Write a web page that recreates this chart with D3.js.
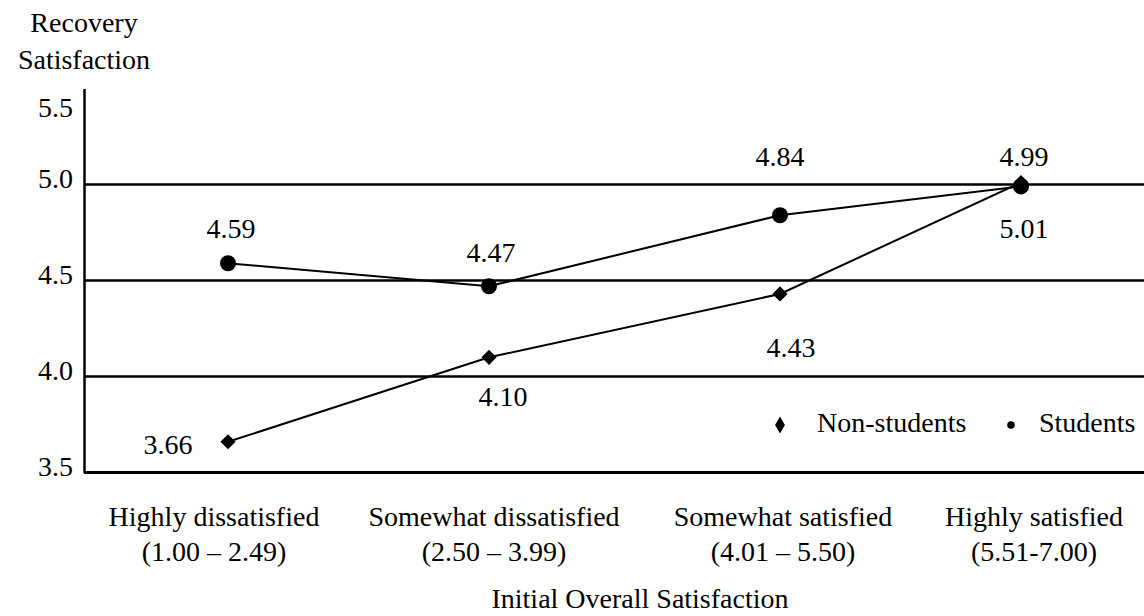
<!DOCTYPE html>
<html>
<head>
<meta charset="utf-8">
<script src="https://cdn.jsdelivr.net/npm/d3@7"></script>
<style>
  html, body { margin: 0; padding: 0; background: #fff; }
  svg text { font-family: "Liberation Serif", "Times New Roman", serif; fill: #000; }
</style>
</head>
<body>
<svg id="chart" width="1144" height="616"></svg>
<script>
// ---- data ----
const categories = ["Highly dissatisfied", "Somewhat dissatisfied", "Somewhat satisfied", "Highly satisfied"];
const categoryRanges = ["(1.00 \u2013 2.49)", "(2.50 \u2013 3.99)", "(4.01 \u2013 5.50)", "(5.51-7.00)"];
const students = [4.59, 4.47, 4.84, 4.99];
const nonStudents = [3.66, 4.10, 4.43, 5.01];
const yTicks = [3.5, 4.0, 4.5, 5.0, 5.5];
const seriesNames = ["Non-students", "Students"];
const yTitle = ["Recovery", "Satisfaction"];
const xTitle = "Initial Overall Satisfaction";

// ---- layout ----
const svg = d3.select("#chart");
const FS = 28;
const axisX = 84, rightX = 1144;

const y = d3.scaleLinear().domain([3.5, 5.5]).range([472.5, 88.5]);
const x = d3.scaleOrdinal().domain(categories).range([228, 489, 780, 1021]);
const xLab = d3.scaleOrdinal().domain(categories).range([214, 494, 783, 1034]);

// gridlines
svg.append("g").selectAll("line")
  .data(yTicks.filter(v => v > 3.5 && v < 5.5))
  .join("line")
  .attr("x1", axisX).attr("x2", rightX)
  .attr("y1", d => y(d)).attr("y2", d => y(d))
  .attr("stroke", "#000").attr("stroke-width", 2.5);

// bottom baseline
svg.append("line")
  .attr("x1", axisX).attr("x2", rightX)
  .attr("y1", y(3.5)).attr("y2", y(3.5))
  .attr("stroke", "#000").attr("stroke-width", 3);

// y axis
const yAxis = d3.axisLeft(y).tickValues(yTicks).tickSize(0).tickPadding(11)
  .tickFormat(d3.format(".1f"));
const gy = svg.append("g").attr("transform", `translate(${axisX},0)`).call(yAxis);
gy.select(".domain").attr("stroke", "#000").attr("stroke-width", 2.5);
gy.selectAll("text")
  .attr("font-size", FS)
  .attr("font-family", "Liberation Serif, Times New Roman, serif")
  .attr("fill", "#000")
  .attr("dy", d => d === 5.5 ? "1.0em" : "0.12em");

// y title
svg.append("g").selectAll("text").data(yTitle).join("text")
  .attr("x", axisX).attr("y", (d, i) => 32 + i * 36.5)
  .attr("text-anchor", "middle").attr("font-size", FS).text(d => d);

// category labels
const cl = svg.append("g").selectAll("g").data(categories).join("g");
cl.append("text")
  .attr("x", d => xLab(d)).attr("y", 526)
  .attr("text-anchor", "middle").attr("font-size", FS).text(d => d);
cl.append("text")
  .attr("x", d => xLab(d)).attr("y", 560.5)
  .attr("text-anchor", "middle").attr("font-size", FS)
  .text((d, i) => categoryRanges[i]);

// x title
svg.append("text").attr("x", 640).attr("y", 608)
  .attr("text-anchor", "middle").attr("font-size", FS).text(xTitle);

// lines
const line = d3.line().x((d, i) => x(categories[i])).y(d => y(d));
[students, nonStudents].forEach(s => {
  svg.append("path").datum(s).attr("d", line)
    .attr("fill", "none").attr("stroke", "#000").attr("stroke-width", 2);
});

// markers
svg.append("g").selectAll("circle").data(students).join("circle")
  .attr("cx", (d, i) => x(categories[i])).attr("cy", d => y(d))
  .attr("r", 8).attr("fill", "#000");

const diamond = d3.symbol().type(d3.symbolSquare).size(115);
svg.append("g").selectAll("path").data(nonStudents).join("path")
  .attr("d", diamond)
  .attr("transform", (d, i) => `translate(${x(categories[i])},${y(d)}) rotate(45)`)
  .attr("fill", "#000");

// value labels
const stuOff = [[3, -25], [2, -24], [0, -49], [3, -20]];
const nonOff = [[-60, 12], [14, 49], [11, 63], [3, 55]];
svg.append("g").selectAll("text").data(students).join("text")
  .attr("x", (d, i) => x(categories[i]) + stuOff[i][0])
  .attr("y", (d, i) => y(d) + stuOff[i][1])
  .attr("text-anchor", "middle").attr("font-size", FS)
  .text(d => d3.format(".2f")(d));
svg.append("g").selectAll("text").data(nonStudents).join("text")
  .attr("x", (d, i) => x(categories[i]) + nonOff[i][0])
  .attr("y", (d, i) => y(d) + nonOff[i][1])
  .attr("text-anchor", "middle").attr("font-size", FS)
  .text(d => d3.format(".2f")(d));

// legend
const lg = svg.append("g");
lg.append("path")
  .attr("d", d3.symbol().type(d3.symbolDiamond).size(84)())
  .attr("transform", "translate(780,425)").attr("fill", "#000");
lg.append("text").attr("x", 817).attr("y", 432).attr("font-size", FS).text(seriesNames[0]);
lg.append("circle").attr("cx", 1011).attr("cy", 425).attr("r", 3.8).attr("fill", "#000");
lg.append("text").attr("x", 1039).attr("y", 432).attr("font-size", FS).text(seriesNames[1]);
</script>
</body>
</html>
